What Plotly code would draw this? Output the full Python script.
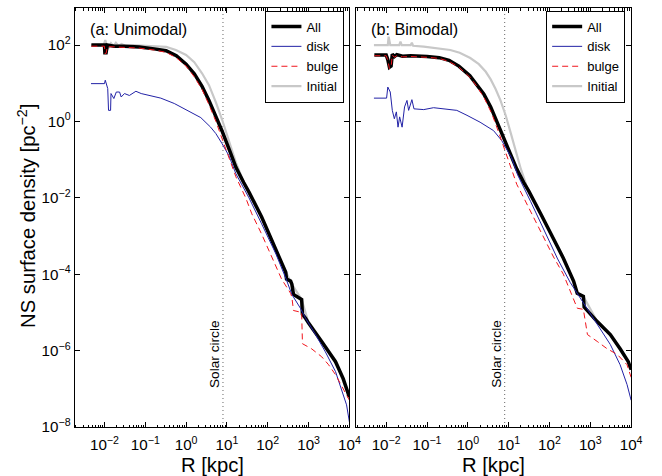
import numpy as np
import plotly.graph_objects as go

# ---------------- data (log10 units) ----------------
# Panel (a) Unimodal
uni_all_logR = [-2.32, -2.0, -1.99, -1.96, -1.93, -1.76, -1.51, -1.15, -0.78, -0.49, -0.24, 0.0, 0.2, 0.39, 0.56,
                0.73, 0.88, 1.05, 1.22, 1.41, 1.54, 1.85, 2.1, 2.34, 2.44, 2.46, 2.56, 2.59, 2.63, 2.83, 2.85, 2.93,
                3.0, 3.32, 3.66, 3.85, 4.0]
uni_all_logS = [2.0, 2.0, 1.8, 1.8, 2.0, 1.97, 1.97, 1.95, 1.9, 1.85, 1.72, 1.5, 1.25, 0.92, 0.55,
                0.15, -0.25, -0.72, -1.2, -1.6, -1.85, -2.5, -3.1, -3.7, -3.95, -4.13, -4.18, -4.26, -4.53, -4.66,
                -5.05, -5.16, -5.28, -5.76, -6.29, -6.74, -7.22]

uni_disk_logR = [-2.33, -2.0, -1.98, -1.92, -1.9, -1.85, -1.84, -1.77, -1.71, -1.63, -1.59, -1.51, -1.39, -1.23,
                 -1.1, -0.86, -0.62, -0.29, -0.05, 0.36, 0.6, 0.73, 0.88, 1.05, 1.22, 1.54, 1.85, 2.2, 2.44, 2.59,
                 2.8, 2.93, 3.17, 3.41, 3.66, 3.8, 3.93, 4.0]
uni_disk_logS = [0.99, 0.99, 1.08, 0.86, 0.29, 0.29, 0.73, 0.6, 0.77, 0.77, 0.64, 0.73, 0.68, 0.79,
                 0.73, 0.66, 0.61, 0.47, 0.33, 0.1, -0.15, -0.32, -0.58, -0.9, -1.37, -2.0, -2.68, -3.47, -4.1,
                 -4.53, -4.89, -5.16, -5.58, -6.03, -6.55, -7.0, -7.42, -7.87]

uni_bulge_logR = [-2.32, -2.0, -1.99, -1.96, -1.93, -1.76, -1.51, -1.15, -0.78, -0.49, -0.24, 0.0, 0.2, 0.39, 0.56,
                  0.73, 0.88, 1.05, 1.22, 1.46, 1.61, 1.85, 2.1, 2.34, 2.56, 2.59, 2.63, 2.71, 2.83, 2.85, 3.07,
                  3.32, 3.49, 3.66, 3.8, 4.0]
uni_bulge_logS = [1.97, 1.97, 1.78, 1.78, 1.96, 1.95, 1.94, 1.92, 1.87, 1.81, 1.67, 1.45, 1.17, 0.84, 0.44,
                  0.0, -0.45, -0.95, -1.45, -2.0, -2.42, -2.95, -3.55, -4.13, -4.5, -4.6, -4.95, -4.97, -5.0,
                  -5.82, -5.95, -6.16, -6.37, -6.63, -6.89, -7.3]

uni_init_logR = [-2.33, -2.02, -1.98, -1.94, -1.9, -1.84, -1.78, -1.72, -1.66, -1.58, -1.5, -1.3, -1.0, -0.7,
                 -0.49, -0.25, 0.0, 0.2, 0.39, 0.56, 0.73, 0.88, 1.05, 1.22, 1.41, 1.54, 1.85, 2.1, 2.34, 2.59,
                 2.83, 3.0, 3.32, 3.66, 4.0]
uni_init_logS = [2.0, 2.0, 2.13, 1.98, 1.93, 2.05, 1.97, 2.06, 1.98, 2.03, 1.98, 2.0, 1.98, 1.97,
                 1.95, 1.87, 1.74, 1.55, 1.26, 0.95, 0.5, 0.05, -0.5, -1.08, -1.58, -1.85, -2.5, -3.1, -3.7,
                 -4.26, -4.66, -5.28, -5.76, -6.29, -7.22]

# Panel (b) Bimodal
bi_all_logR = [-2.29, -2.0, -1.96, -1.92, -1.88, -1.85, -1.8, -1.74, -1.6, -1.4, -1.0, -0.7, -0.46, -0.22, 0.05,
               0.2, 0.39, 0.56, 0.68, 0.8, 0.93, 1.07, 1.2, 1.37, 1.49, 1.8, 2.1, 2.34, 2.59, 2.68, 2.83, 2.85,
               3.17, 3.49, 3.73, 3.93, 4.0]
bi_all_logS = [1.74, 1.74, 1.62, 1.42, 1.45, 1.76, 1.7, 1.75, 1.71, 1.72, 1.7, 1.67, 1.6, 1.45, 1.2,
               1.0, 0.72, 0.38, 0.08, -0.22, -0.55, -0.92, -1.25, -1.6, -1.82, -2.45, -3.1, -3.58, -4.18, -4.5,
               -4.58, -4.86, -5.24, -5.58, -5.95, -6.29, -6.5]

bi_disk_logR = [-2.3, -1.99, -1.96, -1.9, -1.85, -1.8, -1.75, -1.71, -1.67, -1.61, -1.55, -1.49, -1.45, -1.37,
                -1.32, -1.08, -0.84, -0.59, -0.27, -0.02, 0.3, 0.63, 0.83, 1.07, 1.22, 1.54, 1.85, 2.2, 2.51,
                2.76, 3.0, 3.24, 3.49, 3.73, 3.9, 4.0]
bi_disk_logS = [0.61, 0.61, 0.9, 0.77, 0.29, 0.07, 0.25, -0.15, 0.12, -0.15, 0.38, 0.55, 0.29, 0.57,
                0.33, 0.31, 0.36, 0.33, 0.29, 0.16, -0.02, -0.24, -0.5, -0.95, -1.4, -2.1, -2.8, -3.6, -4.22,
                -4.63, -5.05, -5.42, -5.84, -6.37, -6.89, -7.3]

bi_bulge_logR = [-2.29, -2.0, -1.96, -1.92, -1.88, -1.85, -1.8, -1.74, -1.6, -1.4, -1.0, -0.7, -0.46, -0.22, 0.05,
                 0.2, 0.39, 0.59, 0.76, 0.93, 1.07, 1.2, 1.37, 1.61, 1.85, 2.1, 2.34, 2.51, 2.68, 2.83, 2.88, 2.93,
                 3.17, 3.41, 3.66, 3.9, 4.0]
bi_bulge_logS = [1.72, 1.72, 1.6, 1.38, 1.42, 1.74, 1.68, 1.72, 1.69, 1.7, 1.68, 1.65, 1.57, 1.42, 1.16,
                 0.95, 0.64, 0.2, -0.3, -0.8, -1.25, -1.65, -2.0, -2.5, -3.0, -3.55, -4.0, -4.45, -4.89, -4.92,
                 -5.3, -5.58, -5.76, -5.95, -6.1, -6.37, -6.7]

bi_init_logR = [-2.3, -1.96, -1.94, -1.9, -1.68, -1.65, -1.62, -1.4, -1.37, -1.34, -1.08, -0.43, -0.2, 0.06,
                0.27, 0.44, 0.56, 0.68, 0.8, 0.93, 1.05, 1.17, 1.3, 1.45, 1.8, 2.1, 2.34, 2.59, 2.68, 2.83, 3.17,
                3.49, 3.73, 3.93, 4.0]
bi_init_logS = [2.0, 2.0, 2.22, 2.0, 2.0, 2.09, 2.0, 2.0, 2.06, 1.98, 1.96, 1.87, 1.8, 1.66,
                1.5, 1.3, 1.1, 0.85, 0.55, 0.15, -0.3, -0.75, -1.25, -1.72, -2.45, -3.1, -3.58, -4.18, -4.5,
                -4.58, -5.24, -5.58, -5.95, -6.29, -6.5]

solar_R = 8.0  # kpc

x_tick_exps = [-2, -1, 0, 1, 2, 3, 4]
y_tick_exps = [-8, -6, -4, -2, 0, 2]

# ---------------- figure ----------------
REF_W, REF_H = 662, 476          # reference picture size (positions below are in its pixels)
W, H = 670, 484                  # page is captured at this size and scaled to 662x476
FS = W / REF_W
FONT = "Liberation Sans, Arial, Helvetica, sans-serif"
C_ALL, C_DISK, C_BULGE, C_INIT = "black", "#2222a6", "#f0141c", "#c8c8c8"


def px(x):
    return x / REF_W


def py(y):
    return 1 - y / REF_H


def sup(e):
    s = str(e).replace("-", "\u2212")
    return f"10<sup>{s}</sup>"


fig = go.Figure()

panels = [
    ("x", "y", "legend", uni_all_logR, uni_all_logS, uni_disk_logR, uni_disk_logS,
     uni_bulge_logR, uni_bulge_logS, uni_init_logR, uni_init_logS),
    ("x2", "y2", "legend2", bi_all_logR, bi_all_logS, bi_disk_logR, bi_disk_logS,
     bi_bulge_logR, bi_bulge_logS, bi_init_logR, bi_init_logS),
]

for (xa, ya, lg, aR, aS, dR, dS, bR, bS, iR, iS) in panels:
    tp = lambda v: np.power(10.0, np.array(v))
    # solar circle
    fig.add_trace(go.Scatter(x=[solar_R, solar_R], y=[1e-8, 10 ** 2.97], mode="lines",
                             line=dict(color="#666666", width=1, dash="1px,3px"),
                             showlegend=False, hoverinfo="skip", xaxis=xa, yaxis=ya))
    fig.add_trace(go.Scatter(x=tp(iR), y=tp(iS), mode="lines", name="Initial",
                             line=dict(color=C_INIT, width=2.2), legend=lg, legendrank=4,
                             xaxis=xa, yaxis=ya))
    fig.add_trace(go.Scatter(x=tp(aR), y=tp(aS), mode="lines", name="All",
                             line=dict(color=C_ALL, width=3.5), legend=lg, legendrank=1,
                             xaxis=xa, yaxis=ya))
    fig.add_trace(go.Scatter(x=tp(dR), y=tp(dS), mode="lines", name="disk",
                             line=dict(color=C_DISK, width=1), legend=lg, legendrank=2,
                             xaxis=xa, yaxis=ya))
    fig.add_trace(go.Scatter(x=tp(bR), y=tp(bS), mode="lines", name="bulge",
                             line=dict(color=C_BULGE, width=1, dash="6px,4px"), legend=lg, legendrank=3,
                             xaxis=xa, yaxis=ya))

minor_vals = [k * 10.0 ** n for n in range(-3, 4) for k in range(2, 10)]

xcommon = dict(type="log", range=[-2.73, 4], showgrid=False, zeroline=False,
               showline=True, linecolor="black", linewidth=1, mirror="allticks",
               ticks="inside", ticklen=5, tickwidth=1, tickcolor="black",
               tickvals=[10.0 ** e for e in x_tick_exps], ticktext=[sup(e) for e in x_tick_exps],
               tickfont=dict(family=FONT, size=15 * FS, color="black"), ticklabelstandoff=4,
               minor=dict(ticks="inside", ticklen=2.5, tickwidth=1, tickcolor="black",
                          tickvals=minor_vals, showgrid=False))
ycommon = dict(type="log", range=[-8, 2.97], showgrid=False, zeroline=False,
               showline=True, linecolor="black", linewidth=1, mirror="allticks",
               ticks="inside", ticklen=5, tickwidth=1, tickcolor="black",
               tickvals=[10.0 ** e for e in y_tick_exps], ticktext=[sup(e) for e in y_tick_exps],
               tickfont=dict(family=FONT, size=15 * FS, color="black"),
               domain=[py(427), py(8)])

legcommon = dict(bordercolor="black", borderwidth=1, bgcolor="white",
                 font=dict(family=FONT, size=13, color="black"),
                 yanchor="top", xanchor="right", y=py(10.5), tracegroupgap=0,
                 itemwidth=30, traceorder="normal")


def ann(text, x, y, size, angle=0, xanchor="center"):
    return dict(text=text, x=px(x), y=py(y), xref="paper", yref="paper", xanchor=xanchor,
                yanchor="middle", textangle=angle, showarrow=False,
                font=dict(family=FONT, size=size * FS, color="black"))


fig.update_layout(
    width=W, height=H, autosize=False, margin=dict(l=0, r=0, t=0, b=0),
    paper_bgcolor="white", plot_bgcolor="white",
    font=dict(family=FONT, color="black"),
    xaxis=dict(xcommon, domain=[px(75), px(351)], anchor="y"),
    yaxis=dict(ycommon, anchor="x"),
    xaxis2=dict(xcommon, domain=[px(358), px(634)], anchor="y2"),
    yaxis2=dict(ycommon, anchor="x2", showticklabels=False),
    legend=dict(legcommon, x=px(346)),
    legend2=dict(legcommon, x=px(628)),
    annotations=[
        ann("(a: Unimodal)", 88, 29, 16, xanchor="left"),
        ann("(b: Bimodal)", 371, 29, 16, xanchor="left"),
        ann("R [kpc]", 213, 465, 20),
        ann("R [kpc]", 496, 465, 20),
        ann("NS surface density [pc<sup>\u22122</sup>]", 27, 216, 20, angle=-90),
        ann("Solar circle", 215, 354, 13.5, angle=-90),
        ann("Solar circle", 498, 354, 13.5, angle=-90),
    ],
)

fig.write_html(
    "out.html",
    config={"displayModeBar": False, "responsive": False},
    post_script="document.body.style.margin='0';document.body.style.overflow='hidden';",
)
